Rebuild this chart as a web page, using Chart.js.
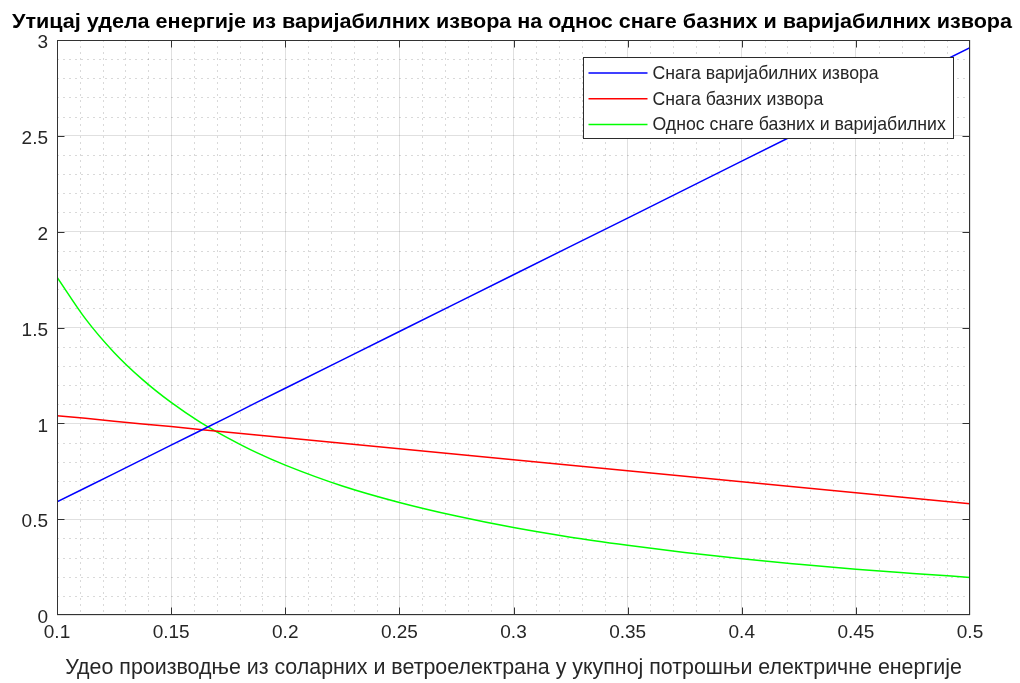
<!DOCTYPE html>
<html>
<head>
<meta charset="utf-8">
<script src="https://cdn.jsdelivr.net/npm/chart.js@4/dist/chart.umd.min.js"></script>
<style>
  html, body { margin: 0; padding: 0; background: #ffffff; }
  #wrap { width: 1020px; height: 683px; }
</style>
</head>
<body>
<div id="wrap"><canvas id="c" width="1020" height="683"></canvas></div>
<script>
// Share of solar + wind generation in total consumption
const shares = [0.1, 0.1125, 0.125, 0.1375, 0.15, 0.1625, 0.175, 0.1875, 0.2, 0.225, 0.25, 0.275, 0.3,
                0.325, 0.35, 0.375, 0.4, 0.425, 0.45, 0.475, 0.5];
// Power of variable sources
const variablePower = [0.59, 0.664, 0.738, 0.812, 0.886, 0.960, 1.034, 1.109, 1.183, 1.331, 1.479, 1.627, 1.775,
                       1.923, 2.071, 2.219, 2.368, 2.516, 2.664, 2.812, 2.96];
// Power of base sources
const basePower = [1.04, 1.026, 1.011, 0.997, 0.983, 0.968, 0.954, 0.939, 0.925, 0.896, 0.868, 0.839, 0.81,
                   0.781, 0.753, 0.724, 0.695, 0.666, 0.638, 0.609, 0.58];
// Base / variable power ratio
const powerRatio = [1.763, 1.545, 1.370, 1.228, 1.109, 1.008, 0.923, 0.847, 0.782, 0.673, 0.587, 0.516, 0.456,
                    0.406, 0.364, 0.326, 0.293, 0.265, 0.239, 0.217, 0.196];

const seriesNames = ['Снага варијабилних извора', 'Снага базних извора', 'Однос снаге базних и варијабилних'];
const xTicks = [0.1, 0.15, 0.2, 0.25, 0.3, 0.35, 0.4, 0.45, 0.5];
const yTicks = [0, 0.5, 1, 1.5, 2, 2.5, 3];

const titleText = 'Утицај удела енергије из варијабилних извора на однос снаге базних и варијабилних извора';
const xTitleText = 'Удео производње из соларних и ветроелектрана у укупној потрошњи електричне енергије';

const FONT = "'Liberation Sans', Arial, Helvetica, sans-serif";
const AXIS_COLOR = '#262626';

const toPoints = vals => shares.map((s, i) => ({ x: s, y: vals[i] }));

// Minor grid positions (every 0.01 on x, every 0.1 on y), skipping majors
const xMinor = [];
for (let i = 10; i <= 50; i++) if (i % 5 !== 0) xMinor.push(i / 100);
const yMinor = [];
for (let i = 0; i <= 30; i++) if (i % 5 !== 0) yMinor.push(i / 10);

const clamp = (v, lo, hi) => Math.min(hi, Math.max(lo, v));

const axesBox = {
  id: 'axesBox',
  beforeDatasetsDraw(chart) {
    const { ctx, chartArea: a, scales: { x, y } } = chart;
    ctx.save();
    ctx.lineWidth = 1;
    ctx.strokeStyle = 'rgba(0,0,0,0.15)';
    ctx.setLineDash([2, 4]);
    ctx.beginPath();
    for (const v of xMinor) {
      const px = Math.round(x.getPixelForValue(v)) + 0.5;
      ctx.moveTo(px, a.top); ctx.lineTo(px, a.bottom);
    }
    for (const v of yMinor) {
      const py = Math.round(y.getPixelForValue(v)) + 0.5;
      ctx.moveTo(a.left, py); ctx.lineTo(a.right, py);
    }
    ctx.stroke();
    ctx.restore();
  },
  afterDatasetsDraw(chart) {
    const { ctx, chartArea: a, scales: { x, y } } = chart;
    ctx.save();
    ctx.strokeStyle = '#333333';
    ctx.lineWidth = 1;
    ctx.setLineDash([]);
    // frame
    const L = Math.round(a.left) + 0.5, R = Math.round(a.right) - 0.5;
    const T = Math.round(a.top) + 0.5, B = Math.round(a.bottom) - 0.5;
    ctx.strokeRect(L, T, R - L, B - T);
    // inward tick marks
    const tl = 7;
    ctx.beginPath();
    for (const v of xTicks) {
      const px = clamp(Math.round(x.getPixelForValue(v)) + 0.5, L, R);
      ctx.moveTo(px, B); ctx.lineTo(px, B - tl);
      ctx.moveTo(px, T); ctx.lineTo(px, T + tl);
    }
    for (const v of yTicks) {
      const py = clamp(Math.round(y.getPixelForValue(v)) + 0.5, T, B);
      ctx.moveTo(L, py); ctx.lineTo(L + tl, py);
      ctx.moveTo(R, py); ctx.lineTo(R - tl, py);
    }
    ctx.stroke();

    // legend box in the upper right of the axes
    const bx = 583.5, by = 57.5, bw = 370, bh = 81;
    ctx.fillStyle = '#ffffff';
    ctx.fillRect(bx, by, bw, bh);
    ctx.strokeStyle = '#2b2b2b';
    ctx.strokeRect(bx, by, bw, bh);
    ctx.font = '17.7px ' + FONT;
    ctx.textBaseline = 'middle';
    ctx.textAlign = 'left';
    chart.data.datasets.forEach((ds, i) => {
      const cy = by + 15.5 + i * 25.7;
      ctx.strokeStyle = ds.borderColor;
      ctx.lineWidth = 1.5;
      ctx.beginPath();
      ctx.moveTo(bx + 5, cy); ctx.lineTo(bx + 64, cy);
      ctx.stroke();
      ctx.fillStyle = AXIS_COLOR;
      ctx.fillText(ds.label, bx + 69, cy + 1);
    });
    ctx.restore();
  },
  afterDraw(chart) {
    // bold, slightly condensed title across the top of the figure
    const { ctx } = chart;
    ctx.save();
    ctx.font = 'bold 20px ' + FONT;
    ctx.fillStyle = '#000000';
    ctx.textAlign = 'center';
    ctx.textBaseline = 'alphabetic';
    const w = ctx.measureText(titleText).width;
    ctx.translate(512, 28);
    ctx.scale(1000 / w, 1);
    ctx.fillText(titleText, 0, 0);
    ctx.restore();
  }
};

new Chart(document.getElementById('c'), {
  type: 'line',
  data: {
    datasets: [
      { label: seriesNames[0], data: toPoints(variablePower), borderColor: '#0000ff' },
      { label: seriesNames[1], data: toPoints(basePower), borderColor: '#ff0000' },
      { label: seriesNames[2], data: toPoints(powerRatio), borderColor: '#00ff00', cubicInterpolationMode: 'monotone' }
    ]
  },
  options: {
    responsive: false,
    animation: false,
    devicePixelRatio: 1,
    layout: { padding: { left: 0, right: 50, top: 40, bottom: 0 } },
    elements: {
      point: { radius: 0 },
      line: { borderWidth: 1.5, fill: false }
    },
    plugins: {
      legend: { display: false },
      tooltip: { enabled: false },
      title: { display: false }
    },
    scales: {
      x: {
        type: 'linear',
        min: 0.1, max: 0.5,
        afterBuildTicks: s => { s.ticks = xTicks.map(v => ({ value: v })); },
        afterFit: s => { s.height = 68; },
        grid: { color: 'rgba(0,0,0,0.12)', drawTicks: false },
        border: { display: false },
        ticks: {
          color: AXIS_COLOR, padding: 6, maxRotation: 0, autoSkip: false,
          font: { family: FONT, size: 19 },
          callback: v => String(v)
        },
        title: {
          display: true, text: xTitleText, color: AXIS_COLOR,
          font: { family: FONT, size: 21.4, lineHeight: 1.2 },
          padding: { top: 0, bottom: 2 }
        }
      },
      y: {
        type: 'linear',
        min: 0, max: 3,
        afterBuildTicks: s => { s.ticks = yTicks.map(v => ({ value: v })); },
        afterFit: s => { s.width = 57; },
        grid: { color: 'rgba(0,0,0,0.12)', drawTicks: false },
        border: { display: false },
        ticks: {
          color: AXIS_COLOR, padding: 9, labelOffset: 3,
          font: { family: FONT, size: 19 },
          callback: v => String(v)
        }
      }
    }
  },
  plugins: [axesBox]
});
</script>
</body>
</html>
